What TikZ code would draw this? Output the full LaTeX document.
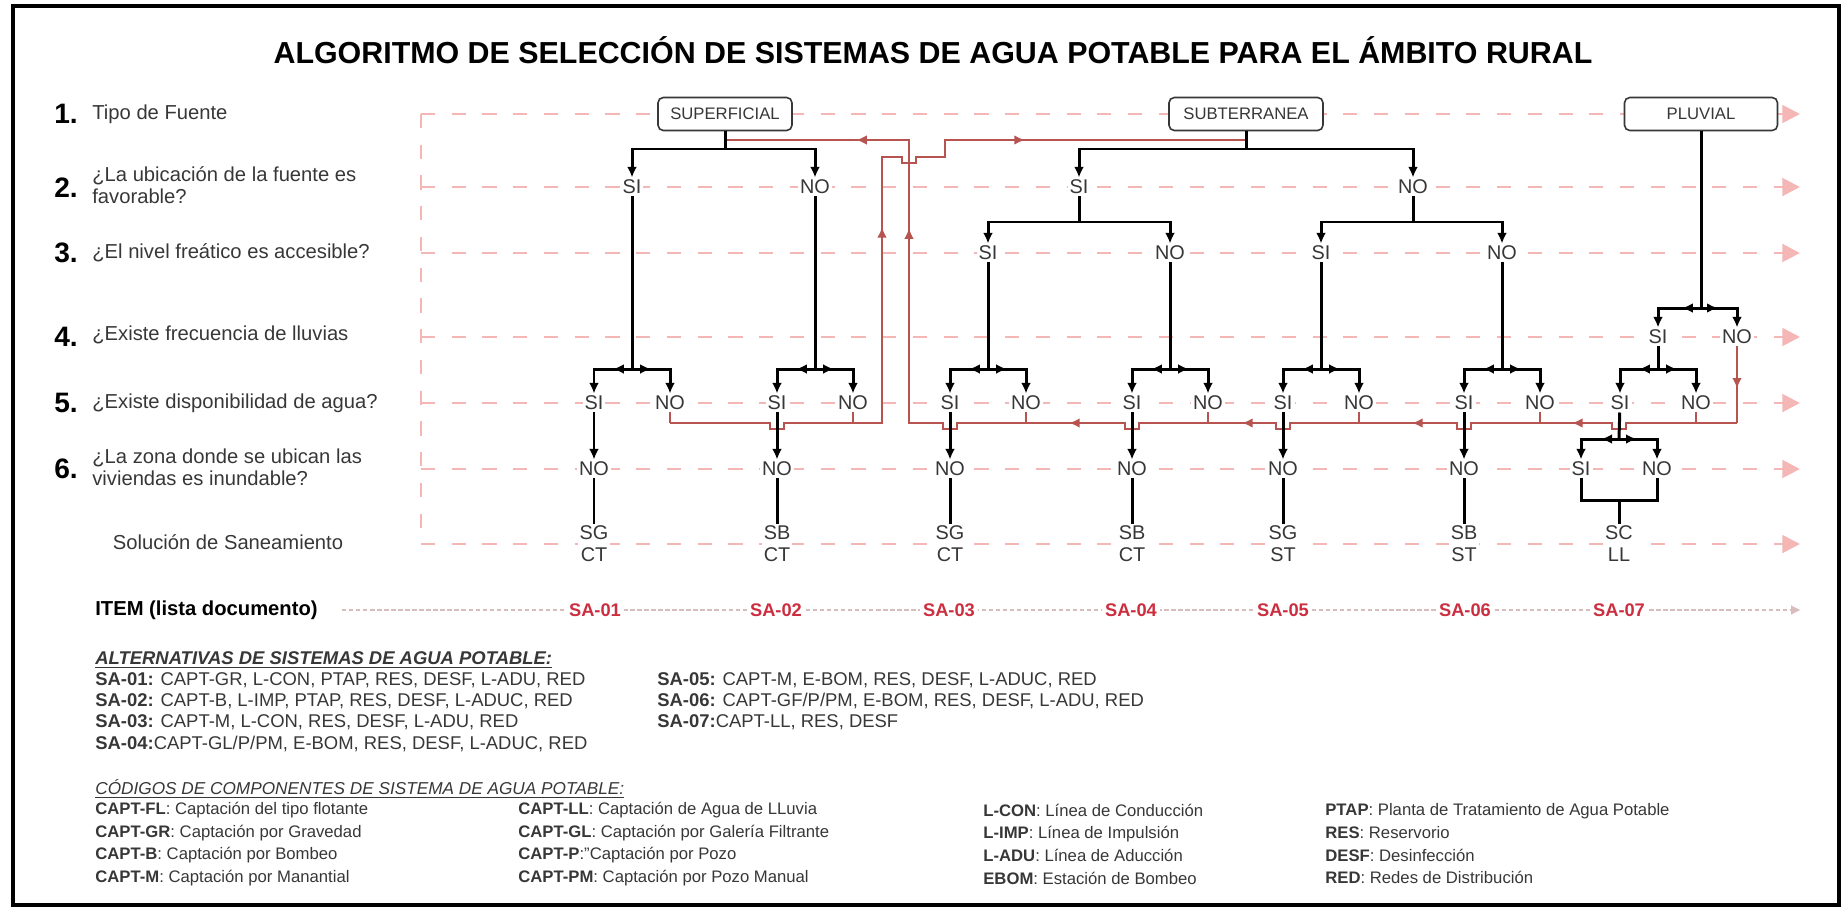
\documentclass[tikz,border=0pt]{standalone}
\usepackage{fontspec}
\setmainfont{Liberation Sans}
\usetikzlibrary{arrows.meta, positioning, decorations.markings}
\definecolor{rojo}{RGB}{184,84,80}
\definecolor{rosa}{RGB}{245,182,182}
\definecolor{rojoitem}{RGB}{204,46,64}
\definecolor{gris}{RGB}{55,55,55}
\tikzset{
  marco/.style={line width=2.5pt},
  titulo/.style={font=\bfseries\fontsize{17.3}{20}\selectfont},
  num/.style={anchor=west, inner sep=0pt, font=\bfseries\fontsize{16}{16}\selectfont},
  preg/.style={anchor=west, inner sep=0pt, align=left, text=gris, font=\fontsize{11.5}{12.5}\selectfont},
  fuente/.style={draw=gris, fill=white, rounded corners=3pt, line width=0.9pt, minimum height=0.66cm, text=gris, font=\fontsize{9.5}{11}\selectfont},
  dec/.style={fill=white, inner sep=1.2pt, text=gris, font=\fontsize{11.3}{12.5}\selectfont},
  sol/.style={dec, align=center},
  item/.style={fill=white, inner sep=2pt, text=rojoitem, font=\bfseries\fontsize{10.4}{12}\selectfont},
  guia/.style={color=rosa, line width=1.6pt, dash pattern=on 8pt off 9.5pt, -{Triangle[length=10pt, width=10pt]}},
  lista/.style={color=rosa!60!gray!70, line width=0.6pt, dash pattern=on 2.5pt off 1.5pt, -{Triangle[length=5pt, width=5pt]}},
  rama/.style={line width=1.7pt},
  flecha/.style={rama, -{Latex[length=6pt, width=5.5pt]}},
  bifur/.style={flecha, postaction={decorate}, decoration={markings, mark=at position 0.3 with {\arrow{Latex[length=6pt, width=5.5pt]}}}},
  retorno/.style={color=rojo, line width=1.3pt},
  medio/.style={postaction={decorate}, decoration={markings, mark=at position #1 with {\arrow{Latex[length=6pt, width=5.5pt]}}}},
  alt/.style={anchor=west, inner sep=0pt, align=left, text=gris, font=\fontsize{10.5}{12.1}\selectfont},
  cod/.style={anchor=west, inner sep=0pt, align=left, text=gris, font=\fontsize{9.5}{12.9}\selectfont}
}
% saltos de la linea roja al cruzar una rama
\newcommand{\saltoI}[2]{-- (#1+7,#2) -- (#1+7,#2+6) -- (#1-7,#2+6) -- (#1-7,#2)}
\newcommand{\saltoD}[2]{-- (#1-7,#2) -- (#1-7,#2+6) -- (#1+7,#2+6) -- (#1+7,#2)}

\begin{document}
\begin{tikzpicture}[x=0.02cm, y=-0.02cm]
  \useasboundingbox (0,0) rectangle (1843,910);
  \draw[marco] (13,6) rectangle (1839,905);

  \node[titulo] (tit) at (933,50) {ALGORITMO DE SELECCIÓN DE SISTEMAS DE AGUA POTABLE PARA EL ÁMBITO RURAL};

  % guias
  \foreach \r/\y in {1/114, 2/187, 3/253, 4/337, 5/403, 6/469, 7/544} {
    \coordinate (g\r) at (421,\y);
    \coordinate (h\r) at (1800,\y);
    \draw[guia] (g\r) -- (h\r);
  }
  \draw[guia, -] (g1) -- (g7);
  \coordinate (iA) at (342,610);
  \coordinate (iB) at (1800,610);
  \draw[lista] (iA) -- (iB);

  % preguntas
  \node[num] (n1) at (54,114) {1.};
  \node[preg] (p1) at (92,114) {Tipo de Fuente};
  \node[num] (n2) at (54,188) {2.};
  \node[preg] (p2) at (92,185) {¿La ubicación de la fuente es\\favorable?};
  \node[num] (n3) at (54,253) {3.};
  \node[preg] (p3) at (92,253) {¿El nivel freático es accesible?};
  \node[num] (n4) at (54,337) {4.};
  \node[preg] (p4) at (92,335) {¿Existe frecuencia de lluvias};
  \node[num] (n5) at (54,403) {5.};
  \node[preg] (p5) at (92,403) {¿Existe disponibilidad de agua?};
  \node[num] (n6) at (54,469) {6.};
  \node[preg] (p6) at (92,467) {¿La zona donde se ubican las\\viviendas es inundable?};
  \node[preg, anchor=center] (p7) at (228,542) {Solución de Saneamiento};
  \node[preg, anchor=west, text=black, font=\bfseries\fontsize{11.5}{13}\selectfont] (p8) at (95,610) {ITEM (lista documento)};

  % fuentes
  \node[fuente, minimum width=2.68cm] (sup) at (725,114) {SUPERFICIAL};
  \node[fuente, minimum width=3.08cm] (sub) at (1246,114) {SUBTERRANEA};
  \node[fuente, minimum width=3.06cm] (plu) at (1701,114) {PLUVIAL};

  \node[dec] (supSI) at (632,187) {SI};
  \node[dec] (supNO) at (815,187) {NO};
  \node[dec] (subSI) at (1079,187) {SI};
  \node[dec] (subNO) at (1413,187) {NO};
  \node[dec] (siSI) at (988,253) {SI};
  \node[dec] (siNO) at (1170,253) {NO};
  \node[dec] (noSI) at (1321,253) {SI};
  \node[dec] (noNO) at (1502,253) {NO};
  \node[dec] (pluSI) at (1658,337) {SI};
  \node[dec] (pluNO) at (1737,337) {NO};

  \foreach \g/\x in {a/632, b/815, c/988, d/1170, e/1321, f/1502, g/1658} {
    \coordinate (\g J) at (\x,369);
    \node[dec] (\g SI) at (\x-38,403) {SI};
    \node[dec] (\g NO) at (\x+38,403) {NO};
  }
  \foreach \g in {a,b,c,d,e,f}
    \node[dec] (\g N6) at (\g SI |- g6) {NO};
  \node[dec] (gSI6) at (1581,469) {SI};
  \node[dec] (gNO6) at (1657,469) {NO};

  \node[sol] (s1) at (594,544) {SG\\CT};
  \node[sol] (s2) at (777,544) {SB\\CT};
  \node[sol] (s3) at (950,544) {SG\\CT};
  \node[sol] (s4) at (1132,544) {SB\\CT};
  \node[sol] (s5) at (1283,544) {SG\\ST};
  \node[sol] (s6) at (1464,544) {SB\\ST};
  \node[sol] (s7) at (1619,544) {SC\\LL};

  \node[item] (sa1) at (595,610) {SA-01};
  \node[item] (sa2) at (776,610) {SA-02};
  \node[item] (sa3) at (949,610) {SA-03};
  \node[item] (sa4) at (1131,610) {SA-04};
  \node[item] (sa5) at (1283,610) {SA-05};
  \node[item] (sa6) at (1465,610) {SA-06};
  \node[item] (sa7) at (1619,610) {SA-07};

  % lineas de retorno
  \coordinate (lA) at (670,423);
  \coordinate (lB) at (882,423);
  \coordinate (lC) at (882,157);
  \coordinate (lD) at (945,157);
  \coordinate (lE) at (945,140);
  \coordinate (subR) at (1246,140);
  \coordinate (rPl) at (1737,423);
  \coordinate (rV) at (909,423);
  \coordinate (rT) at (909,140);
  \coordinate (supR) at (725,140);
  \draw[retorno] (aNO) -- (lA);
  \foreach \g in {b,c,d,e,f,g}
    \draw[retorno] (\g NO) -- (\g NO |- rV);
  \draw[retorno, medio=0.55] (pluNO) -- (rPl);
  \draw[retorno, postaction={decorate}, decoration={markings,
      mark=at position 8.4cm with {\arrow{Latex[length=6pt, width=5.5pt]}},
      mark=at position 13.24cm with {\arrow{Latex[length=6pt, width=5.5pt]}}}]
    (lA) \saltoD{777}{423} -- (lB) -- (lC) \saltoD{909}{157} -- (lD) -- (lE) -- (subR);
  \draw[retorno, postaction={decorate}, decoration={markings,
      mark=at position 3.54cm with {\arrow{Latex[length=6pt, width=5.5pt]}},
      mark=at position 6.98cm with {\arrow{Latex[length=6pt, width=5.5pt]}},
      mark=at position 10.62cm with {\arrow{Latex[length=6pt, width=5.5pt]}},
      mark=at position 14.32cm with {\arrow{Latex[length=6pt, width=5.5pt]}},
      mark=at position 21.66cm with {\arrow{Latex[length=6pt, width=5.5pt]}},
      mark=at position 24.48cm with {\arrow{Latex[length=6pt, width=5.5pt]}}}]
    (rPl) \saltoI{1619}{423} \saltoI{1464}{423} \saltoI{1283}{423} \saltoI{1132}{423} \saltoI{950}{423} -- (rV) -- (rT) -- (supR);

  % ramas
  \coordinate (supJ) at (725,149);
  \coordinate (subJ) at (1246,149);
  \coordinate (siJ) at (1079,222);
  \coordinate (noJ) at (1413,222);
  \coordinate (pluJ) at (1701,308);
  \draw[rama] (sup) -- (supJ);
  \draw[flecha] (supJ) -| (supSI);
  \draw[flecha] (supJ) -| (supNO);
  \draw[rama] (sub) -- (subJ);
  \draw[flecha] (subJ) -| (subSI);
  \draw[flecha] (subJ) -| (subNO);
  \draw[rama] (subSI) -- (siJ);
  \draw[flecha] (siJ) -| (siSI);
  \draw[flecha] (siJ) -| (siNO);
  \draw[rama] (subNO) -- (noJ);
  \draw[flecha] (noJ) -| (noSI);
  \draw[flecha] (noJ) -| (noNO);
  \draw[rama] (plu) -- (pluJ);
  \draw[bifur] (pluJ) -| (pluSI);
  \draw[bifur] (pluJ) -| (pluNO);

  \foreach \p/\g in {supSI/a, supNO/b, siSI/c, siNO/d, noSI/e, noNO/f, pluSI/g} {
    \draw[rama] (\p) -- (\g J);
    \draw[bifur] (\g J) -| (\g SI);
    \draw[bifur] (\g J) -| (\g NO);
  }
  \foreach \g/\k in {a/1, b/2, c/3, d/4, e/5, f/6} {
    \draw[flecha] (\g SI) -- (\g N6);
    \draw[rama] (\g N6) -- (s\k);
  }
  \coordinate (gJ6) at (1619,439);
  \coordinate (gK) at (1619,500);
  \draw[rama] (gSI) -- (gJ6);
  \draw[bifur] (gJ6) -| (gSI6);
  \draw[bifur] (gJ6) -| (gNO6);
  \draw[rama] (gSI6) |- (gK) -| (gNO6);
  \draw[rama] (gK) -- (s7);

  % leyenda
  \node[alt] (altT) at (95,660) {\textbf{\textit{\underline{ALTERNATIVAS DE SISTEMAS DE AGUA POTABLE:}}}};
  \node[alt] (altA) at (95,712) {\textbf{SA-01:} CAPT-GR, L-CON, PTAP, RES, DESF, L-ADU, RED\\
    \textbf{SA-02:} CAPT-B, L-IMP, PTAP, RES, DESF, L-ADUC, RED\\
    \textbf{SA-03:} CAPT-M, L-CON, RES, DESF, L-ADU, RED\\
    \textbf{SA-04:}CAPT-GL/P/PM, E-BOM, RES, DESF, L-ADUC, RED};
  \node[alt] (altB) at (657,701) {\textbf{SA-05:} CAPT-M, E-BOM, RES, DESF, L-ADUC, RED\\
    \textbf{SA-06:} CAPT-GF/P/PM, E-BOM, RES, DESF, L-ADU, RED\\
    \textbf{SA-07:}CAPT-LL, RES, DESF};
  \node[cod, font=\itshape\fontsize{9.8}{12}\selectfont] (codT) at (95,789) {\underline{CÓDIGOS DE COMPONENTES DE SISTEMA DE AGUA POTABLE:}};
  \node[cod] (codA) at (95,844) {\textbf{CAPT-FL}: Captación del tipo flotante\\
    \textbf{CAPT-GR}: Captación por Gravedad\\
    \textbf{CAPT-B}: Captación por Bombeo\\
    \textbf{CAPT-M}: Captación por Manantial};
  \node[cod] (codB) at (518,844) {\textbf{CAPT-LL}: Captación de Agua de LLuvia\\
    \textbf{CAPT-GL}: Captación por Galería Filtrante\\
    \textbf{CAPT-P}:"Captación por Pozo\\
    \textbf{CAPT-PM}: Captación por Pozo Manual};
  \node[cod] (codC) at (983,844) {\textbf{L-CON}: Línea de Conducción\\
    \textbf{L-IMP}: Línea de Impulsión\\
    \textbf{L-ADU}: Línea de Aducción\\
    \textbf{EBOM}: Estación de Bombeo};
  \node[cod] (codD) at (1325,844) {\textbf{PTAP}: Planta de Tratamiento de Agua Potable\\
    \textbf{RES}: Reservorio\\
    \textbf{DESF}: Desinfección\\
    \textbf{RED}: Redes de Distribución};
\end{tikzpicture}
\end{document}
